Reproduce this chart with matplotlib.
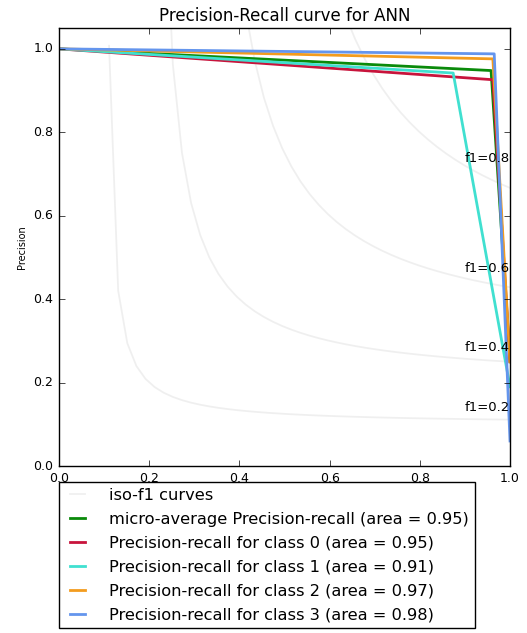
import numpy as np
import matplotlib
matplotlib.use("Agg")
import matplotlib.pyplot as plt

plt.style.use("classic")
plt.rcParams["font.family"] = ["DejaVu Sans"]

# ---- data ----
f_scores = [0.2, 0.4, 0.6, 0.8]

micro_recall = [1.0, 0.958, 0.0]
micro_precision = [0.25, 0.948, 1.0]
micro_area = 0.95

class_names = ["0", "1", "2", "3"]
class_recall = [
    [1.0, 0.962, 0.0],
    [1.0, 0.874, 0.0],
    [1.0, 0.962, 0.0],
    [1.0, 0.965, 0.0],
]
class_precision = [
    [0.25, 0.926, 1.0],
    [0.19, 0.942, 1.0],
    [0.25, 0.976, 1.0],
    [0.06, 0.988, 1.0],
]
class_area = [0.95, 0.91, 0.97, 0.98]
class_colors = ["#c8143c", "turquoise", "#f39c1e", "cornflowerblue"]
micro_color = "#0a8a0a"

fig = plt.figure(figsize=(5.27, 6.33), dpi=100, facecolor="white")
ax = fig.add_axes([59 / 527, 1 - 466 / 633, (510 - 59) / 527, (466 - 28) / 633])
ax.set_facecolor("white")

lines, labels = [], []
for f in f_scores:
    x = np.linspace(0.01, 1)
    y = f * x / (2 * x - f)
    (l,) = ax.plot(x[y >= 0], y[y >= 0], color="gray", alpha=0.12, lw=1.3)
    ax.annotate("f1={0:0.1f}".format(f), xy=(0.9, y[45] + 0.02), fontsize=9.5)
lines.append(l)
labels.append("iso-f1 curves")

(l,) = ax.plot(micro_recall, micro_precision, color=micro_color, lw=2)
lines.append(l)
labels.append("micro-average Precision-recall (area = {0:0.2f})".format(micro_area))

for name, r, p, a, c in zip(class_names, class_recall, class_precision, class_area, class_colors):
    (l,) = ax.plot(r, p, color=c, lw=2)
    lines.append(l)
    labels.append("Precision-recall for class {0} (area = {1:0.2f})".format(name, a))

ax.set_xlim(0.0, 1.0)
ax.set_ylim(0.0, 1.05)
ax.set_xticks([0.0, 0.2, 0.4, 0.6, 0.8, 1.0])
ax.set_yticks([0.0, 0.2, 0.4, 0.6, 0.8, 1.0])
ax.tick_params(labelsize=9, direction="in", top=True, right=True)
ax.set_ylabel("Precision", fontsize=7)
ax.set_title("Precision-Recall curve for ANN", fontsize=12)

leg = ax.legend(
    lines,
    labels,
    loc="upper left",
    bbox_to_anchor=(0.0, (466 - 482) / 438),
    prop=dict(size=11.7),
    labelspacing=0.55,
    handlelength=1.55,
    handletextpad=1.2,
    borderpad=0.35,
    borderaxespad=0.0,
    fancybox=False,
    numpoints=2,
    framealpha=1.0,
)
leg.get_frame().set_edgecolor("black")
leg.get_frame().set_facecolor("white")

fig.savefig("out.png", dpi=100, facecolor="white")
